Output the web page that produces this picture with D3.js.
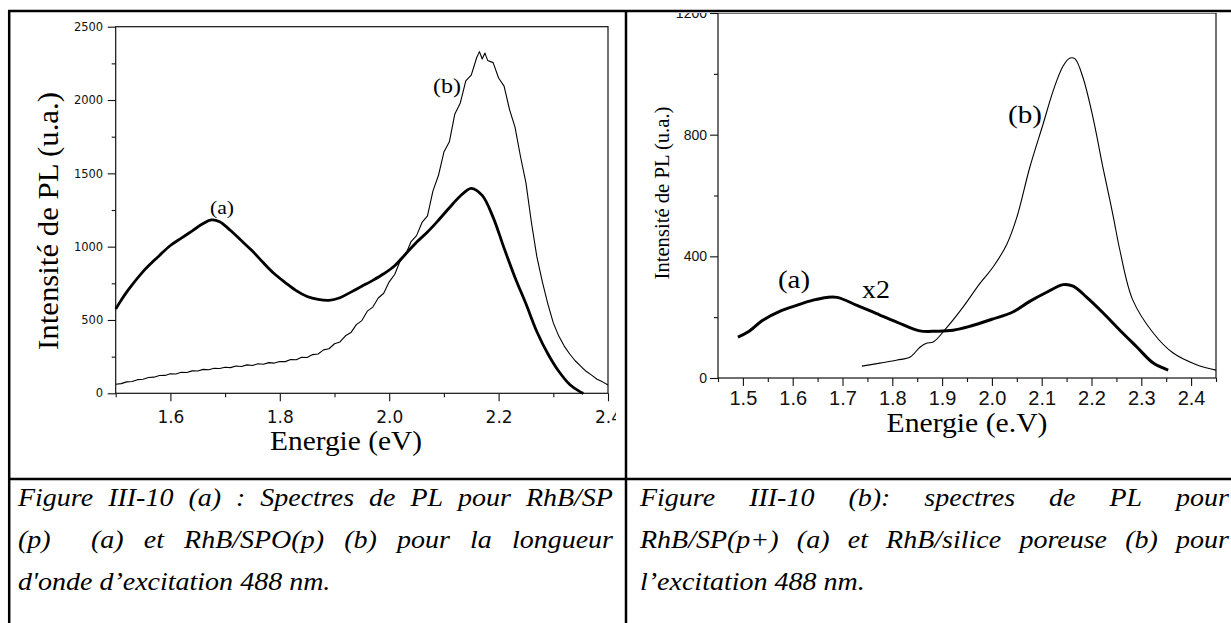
<!DOCTYPE html>
<html><head><meta charset="utf-8">
<script src="https://cdn.jsdelivr.net/npm/d3@7"></script>
<style>
html,body{margin:0;padding:0;background:#fff;overflow:hidden}
</style>
</head><body>
<svg id="c" width="1231" height="623"></svg>
<script>
// ---------- Panel (a) data ----------
const leftCurveA_E = [1.50,1.51,1.52,1.53,1.55,1.57,1.58,1.60,1.62,1.64,1.66,1.675,1.69,1.71,1.73,1.75,1.77,1.79,1.81,1.83,1.85,1.87,1.89,1.91,1.93,1.95,1.97,1.99,2.01,2.03,2.05,2.07,2.09,2.11,2.13,2.15,2.17,2.19,2.21,2.23,2.25,2.27,2.29,2.31,2.33,2.35,2.355];
const leftCurveA_I = [575,635,690,740,830,905,940,1008,1058,1108,1158,1182,1170,1110,1040,970,890,815,755,700,660,640,634,652,690,730,770,815,870,950,1030,1100,1180,1265,1345,1398,1350,1200,990,790,610,420,270,150,60,8,0];
const leftCurveB_E = [1.50,1.51,1.52,1.53,1.54,1.55,1.56,1.57,1.58,1.59,1.60,1.61,1.62,1.63,1.64,1.65,1.66,1.67,1.68,1.69,1.70,1.71,1.72,1.73,1.74,1.75,1.76,1.77,1.78,1.79,1.80,1.81,1.82,1.83,1.84,1.85,1.86,1.87,1.88,1.89,1.90,1.91,1.92,1.93,1.94,1.95,1.96,1.97,1.98,1.99,2.00,2.01,2.02,2.03,2.04,2.05,2.06,2.07,2.08,2.09,2.10,2.11,2.12,2.13,2.14,2.15,2.16,2.165,2.17,2.175,2.18,2.19,2.20,2.21,2.22,2.23,2.24,2.25,2.26,2.27,2.28,2.29,2.30,2.31,2.32,2.33,2.34,2.35,2.36,2.37,2.38,2.39,2.40];
const leftCurveB_I = [62,66,78,80,93,96,108,110,121,122,133,132,143,142,153,152,163,161,171,169,178,175,186,183,194,190,201,198,209,206,217,216,230,229,246,244,264,268,296,304,338,350,392,414,468,496,560,588,650,682,760,810,902,945,1035,1075,1165,1210,1380,1485,1645,1715,1905,1980,2130,2170,2290,2330,2280,2320,2270,2255,2150,2095,1935,1815,1615,1435,1165,930,760,610,480,390,322,268,222,186,150,124,96,78,56];
const leftXTicks = [1.6,1.8,2.0,2.2,2.4];
const leftXMinor = [1.5,1.7,1.9,2.1,2.3];
const leftYTicks = [0,500,1000,1500,2000,2500];
const leftYMinor = [250,750,1250,1750,2250];

// ---------- Panel (b) data ----------
const rightCurveA_E = [1.49,1.51,1.54,1.575,1.608,1.641,1.669,1.689,1.729,1.775,1.809,1.855,1.89,1.922,1.956,2.0,2.042,2.076,2.11,2.143,2.163,2.19,2.224,2.257,2.291,2.324,2.354];
const rightCurveA_I = [134,151,190,220,239,256,265,265,239,207,184,155,154,157,170,193,217,252,282,307,302,266,213,157,102,49,26];
const rightCurveB_E = [1.739,1.775,1.81,1.836,1.856,1.87,1.882,1.91,1.942,1.976,2.002,2.03,2.05,2.076,2.103,2.123,2.143,2.157,2.167,2.183,2.203,2.223,2.237,2.245,2.257,2.283,2.324,2.364,2.412,2.45];
const rightCurveB_I = [39,49,59,69,102,115,118,167,233,311,364,440,528,692,836,944,1026,1052,1049,987,856,692,584,520,420,256,148,82,43,26];
const rightXTicks = [1.5,1.6,1.7,1.8,1.9,2.0,2.1,2.2,2.3,2.4];
const rightXMinor = [1.45,1.55,1.65,1.75,1.85,1.95,2.05,2.15,2.25,2.35,2.45];
const rightYTicks = [0,400,800,1200];
const rightYMinor = [200,600,1000];

// ---------- Texts ----------
const yTitle = "Intensité de PL (u.a.)";
const leftXTitle = "Energie (eV)";
const rightXTitle = "Energie (e.V)";
const leftCaption = ["Figure III-10 (a) : Spectres de PL pour RhB/SP","(p)  (a) et RhB/SPO(p) (b) pour la longueur","d'onde d\u2019excitation 488 nm."];
const rightCaption = ["Figure III-10 (b): spectres de PL pour","RhB/SP(p+) (a) et RhB/silice poreuse (b) pour","l\u2019excitation 488 nm."];

const SERIF = '"Liberation Serif", "Times New Roman", serif';
const SANS = '"Liberation Sans", Arial, sans-serif';
const DVS = '"DejaVu Sans", sans-serif';

const svg = d3.select("#c");
const defs = svg.append("defs");
defs.append("clipPath").attr("id","clipL").append("rect").attr("x",10).attr("y",12).attr("width",606).attr("height",466);
defs.append("clipPath").attr("id","clipR").append("rect").attr("x",628).attr("y",13).attr("width",610).attr("height",465);

function tickStyle(g, fam, size){
  g.select(".domain").remove();
  g.attr("font-family",null).attr("font-size",null);
  g.selectAll("line").attr("stroke","#111").attr("stroke-width",1.1);
  g.selectAll("text").style("font-family",fam).style("font-size",size+"px").attr("fill","#111");
}

// ---------- Left panel ----------
const gL = svg.append("g").attr("clip-path","url(#clipL)");
const xL = d3.scaleLinear().domain([1.5,2.4]).range([115.7,608]);
const yL = d3.scaleLinear().domain([0,2500]).range([393.3,26.7]);
gL.append("g").attr("transform","translate(0,393.3)")
  .call(d3.axisBottom(xL).tickValues(leftXTicks).tickSize(8).tickSizeOuter(0).tickPadding(10).tickFormat(d3.format(".1f")))
  .call(g=>tickStyle(g,DVS,17));
gL.append("g").attr("transform","translate(0,393.3)")
  .call(d3.axisBottom(xL).tickValues(leftXMinor).tickSize(4).tickSizeOuter(0).tickFormat(""))
  .call(g=>tickStyle(g,DVS,17));
gL.append("g").attr("transform","translate(115.7,0)")
  .call(d3.axisLeft(yL).tickValues(leftYTicks).tickSize(8).tickSizeOuter(0).tickPadding(4.5).tickFormat(d3.format("d")))
  .call(g=>tickStyle(g,DVS,11.5));
gL.append("g").attr("transform","translate(115.7,0)")
  .call(d3.axisLeft(yL).tickValues(leftYMinor).tickSize(4).tickSizeOuter(0).tickFormat(""))
  .call(g=>tickStyle(g,DVS,11.5));
gL.append("rect").attr("x",xL(1.5)).attr("y",yL(2500)).attr("width",xL(2.4)-xL(1.5)).attr("height",yL(0)-yL(2500))
  .attr("fill","none").attr("stroke","#111").attr("stroke-width",1.2);

gL.append("path").datum(d3.zip(leftCurveB_E,leftCurveB_I))
  .attr("d",d3.line().x(d=>xL(d[0])).y(d=>yL(d[1])).curve(d3.curveLinear))
  .attr("fill","none").attr("stroke","#000").attr("stroke-width",1.1).attr("stroke-linejoin","round");
gL.append("path").datum(d3.zip(leftCurveA_E,leftCurveA_I))
  .attr("d",d3.line().x(d=>xL(d[0])).y(d=>yL(d[1])).curve(d3.curveCatmullRom.alpha(0.5)))
  .attr("fill","none").attr("stroke","#000").attr("stroke-width",2.8).attr("stroke-linejoin","round");

function txt(g, s, x, y, size, len, opts={}){
  const t = g.append("text").style("font-family",SERIF).style("font-size",size+"px")
    .attr("text-anchor","middle").attr("fill","#000").text(s);
  if(len){ t.attr("textLength",len).attr("lengthAdjust","spacingAndGlyphs"); }
  if(opts.rotate){ t.attr("x",0).attr("y",0).attr("transform",`translate(${x},${y}) rotate(-90)`); }
  else { t.attr("x",x).attr("y",y); }
  return t;
}
txt(gL, yTitle, 58, 221, 29, 258, {rotate:true});
txt(gL, leftXTitle, 346, 450, 27, 152);
txt(gL, "(a)", 222, 214, 19, 24);
txt(gL, "(b)", 447, 93, 21, 28);

// ---------- Right panel ----------
const gR = svg.append("g").attr("clip-path","url(#clipR)");
const xR = d3.scaleLinear().domain([1.45,2.45]).range([718,1216]);
const yR = d3.scaleLinear().domain([0,1200]).range([378,13]);
gR.append("g").attr("transform","translate(0,378)")
  .call(d3.axisBottom(xR).tickValues(rightXTicks).tickSize(8).tickSizeOuter(0).tickPadding(5).tickFormat(d3.format(".1f")))
  .call(g=>tickStyle(g,SANS,20));
gR.append("g").attr("transform","translate(0,378)")
  .call(d3.axisBottom(xR).tickValues(rightXMinor).tickSize(4).tickSizeOuter(0).tickFormat(""))
  .call(g=>tickStyle(g,SANS,20));
gR.append("g").attr("transform","translate(718,0)")
  .call(d3.axisLeft(yR).tickValues(rightYTicks).tickSize(8).tickSizeOuter(0).tickPadding(3).tickFormat(d3.format("d")))
  .call(g=>tickStyle(g,SANS,14));
gR.append("g").attr("transform","translate(718,0)")
  .call(d3.axisLeft(yR).tickValues(rightYMinor).tickSize(4).tickSizeOuter(0).tickFormat(""))
  .call(g=>tickStyle(g,SANS,14));
gR.append("rect").attr("x",xR(1.45)).attr("y",yR(1200)).attr("width",xR(2.45)-xR(1.45)).attr("height",yR(0)-yR(1200))
  .attr("fill","none").attr("stroke","#111").attr("stroke-width",1.2);

const lineR = d3.line().x(d=>xR(d[0])).y(d=>yR(d[1])).curve(d3.curveCatmullRom.alpha(0.5));
gR.append("path").datum(d3.zip(rightCurveB_E,rightCurveB_I)).attr("d",lineR)
  .attr("fill","none").attr("stroke","#000").attr("stroke-width",1.1);
gR.append("path").datum(d3.zip(rightCurveA_E,rightCurveA_I)).attr("d",lineR)
  .attr("fill","none").attr("stroke","#000").attr("stroke-width",3).attr("stroke-linejoin","round");

txt(gR, yTitle, 669, 193, 20, 173, {rotate:true});
txt(gR, rightXTitle, 967, 432, 27, 161);
txt(gR, "(a)", 794, 288, 25, 32);
txt(gR, "x2", 876, 298, 25, 28);
txt(gR, "(b)", 1025, 123, 26, 34);

// ---------- Table borders ----------
const border = svg.append("g").attr("stroke","#000").attr("stroke-width",2.5);
border.append("line").attr("x1",8).attr("x2",1231).attr("y1",11).attr("y2",11);
border.append("line").attr("x1",9.2).attr("x2",9.2).attr("y1",10).attr("y2",623);
border.append("line").attr("x1",626).attr("x2",626).attr("y1",10).attr("y2",623);
border.append("line").attr("x1",8).attr("x2",1231).attr("y1",479).attr("y2",479);

// ---------- Captions (justified, glyphs widened like the scanned original) ----------
const capSize = 25, capStretch = 1.12;
function caption(lines, x0, x1, y0, dy){
  const g = svg.append("g").attr("fill","#000");
  lines.forEach((ln,i)=>{
    const words = ln.split(" ");
    const y = y0 + i*dy;
    const last = i===lines.length-1;
    const nodes = words.map(w=>g.append("text").style("font-family",SERIF).style("font-style","italic").style("font-size",capSize+"px").text(w));
    const widths = nodes.map(n=>n.node().getComputedTextLength()*capStretch);
    const total = d3.sum(widths);
    const space = last ? capSize*0.25*capStretch : (x1-x0-total)/(words.length-1);
    let x = x0;
    nodes.forEach((n,k)=>{ n.attr("transform",`translate(${x},${y}) scale(${capStretch},1)`); x += widths[k]+space; });
  });
}
caption(leftCaption, 18, 613, 506, 42);
caption(rightCaption, 640, 1229, 506, 42);
</script>
</body></html>
